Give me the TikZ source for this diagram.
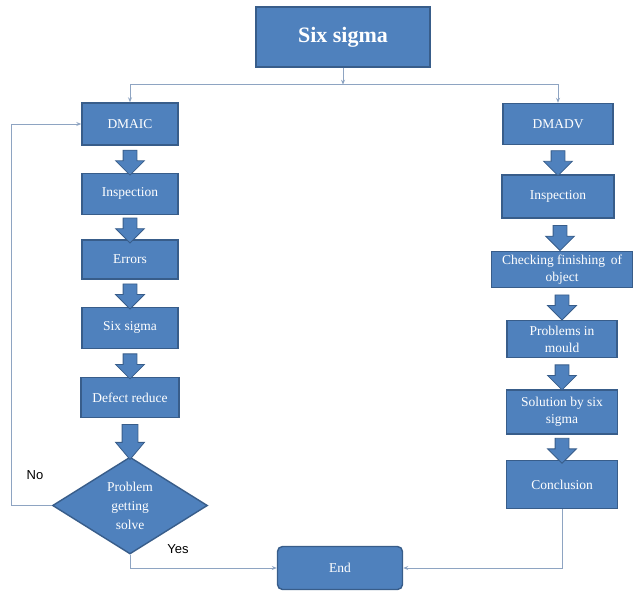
\documentclass[tikz,border=0pt]{standalone}
\usepackage{xcolor}
\usepackage{fontspec}
\setmainfont{Liberation Serif}
\newfontfamily\labelfont{Liberation Sans}
\usetikzlibrary{positioning,calc,shapes.geometric,shapes.arrows,arrows.meta}
\definecolor{boxblue}{HTML}{4F81BD}
\definecolor{boxedge}{HTML}{385D8A}
\definecolor{linegray}{HTML}{8EA4C2}

\begin{document}
\begin{tikzpicture}[x=1pt, y=-1pt,
    box/.style={draw=boxedge, line width=1.4pt, fill=boxblue, text=white,
      align=center, inner sep=1pt, font=\fontsize{13.5}{17}\selectfont},
    fatarrow/.style={single arrow, draw=boxedge, fill=boxblue, line width=0.8pt,
      rotate=-90, inner sep=6.5pt, single arrow head extend=7.5pt, minimum height=25pt},
    link/.style={draw=linegray, line width=0.9pt, -{Stealth[length=5pt,width=4pt]}},
    lbl/.style={font=\labelfont\fontsize{13}{15}\selectfont}]
    \useasboundingbox (0,0) rectangle (636,592);

    \node[box, font=\bfseries\fontsize{22}{26}\selectfont,
      minimum width=174pt, minimum height=60pt] (top) at (343,37) {Six sigma};

    \node[box, minimum width=96pt, minimum height=42pt] (dmaic) at (130,124) {DMAIC};
    \node[box, below=27pt of dmaic, minimum width=96pt, minimum height=41pt] (inspL) {Inspection};
    \node[box, below=24pt of inspL, minimum width=96pt, minimum height=39pt] (errors) {Errors};
    \node[box, below=27pt of errors, minimum width=96pt, minimum height=41pt] (sigmaL) {Six sigma};
    \node[box, below=28pt of sigmaL, minimum width=98pt, minimum height=40pt] (defect) {Defect reduce};
    \node[box, diamond, aspect=1.6, inner sep=0pt, below=38pt of defect,
      font=\fontsize{13.5}{19}\selectfont,
      minimum width=155pt, minimum height=97pt] (dec) {Problem\\getting\\solve};

    \node[box, minimum width=110pt, minimum height=41pt] (dmadv) at (558,124) {DMADV};
    \node[box, below=29pt of dmadv, minimum width=112pt, minimum height=43pt] (inspR) {Inspection};
    \node[box, below=32pt of inspR, xshift=4pt, minimum width=141pt, minimum height=36pt] (check) {Checking finishing\, of\\object};
    \node[box, below=32pt of check, minimum width=110pt, minimum height=37pt] (mould) {Problems in\\mould};
    \node[box, below=31pt of mould, minimum width=111pt, minimum height=44pt] (solution) {Solution by six\\sigma};
    \node[box, below=25pt of solution, minimum width=111pt, minimum height=48pt] (concl) {Conclusion};

    \node[box, rounded corners=5pt, minimum width=125pt, minimum height=43pt] (endbox) at (340,568) {End};

    \foreach \a/\b in {dmaic/inspL, inspL/errors, errors/sigmaL, sigmaL/defect,
      dmadv/inspR, inspR/check, check/mould, mould/solution, solution/concl}
      \node[fatarrow] (fa-\a) at ($(\a.south)!0.5!(\b.north)$) {};
    \node[fatarrow, minimum height=35pt, inner sep=7.5pt, single arrow head extend=6.5pt,
      single arrow tip angle=80] (fa-defect) at ($(defect.south)!0.5!(dec.north)$) {};

    \coordinate[below=17pt of top.south] (j);
    \coordinate (fb) at ($(dec.west)+(-40,0)$);
    \draw[link] (top.south) -- (j);
    \draw[link] (j) -| (dmaic.north);
    \draw[link] (j) -| (dmadv.north);
    \draw[link] (dec.west) -- (fb) |- (dmaic.west);
    \draw[link] (dec.south) |- (endbox.west);
    \draw[link] (concl.south) |- (endbox.east);

    \node[lbl] (no) at (35,475) {No};
    \node[lbl] (yes) at (178,549) {Yes};
\end{tikzpicture}
\end{document}
